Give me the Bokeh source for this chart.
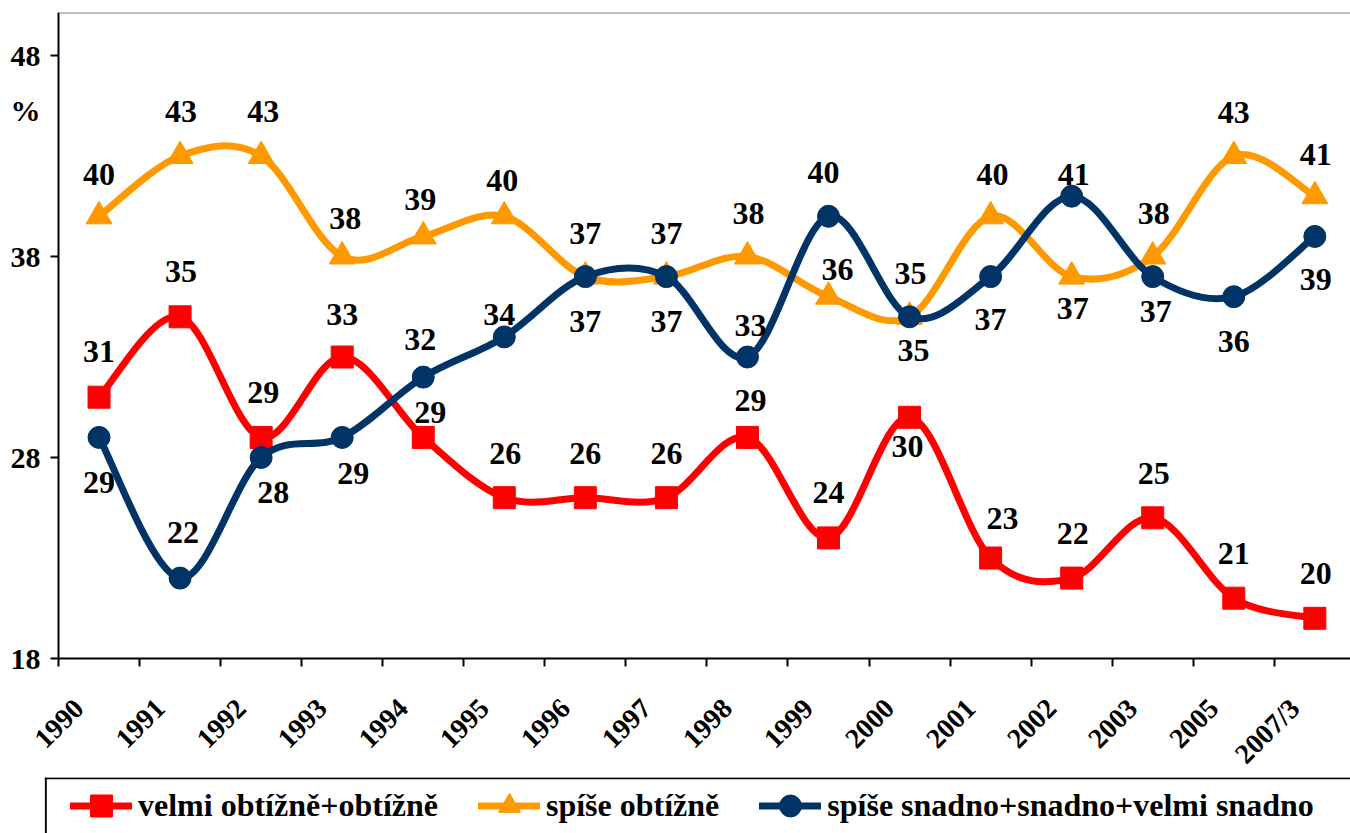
import math
from bokeh.plotting import figure
from bokeh.layouts import column
from bokeh.models import (Range1d, FixedTicker, ColumnDataSource, Legend, LegendItem,
                          Span)
from bokeh.embed import file_html
from bokeh.resources import INLINE
from bokeh.core.properties import value

# ---------------- data ----------------
years = ["1990", "1991", "1992", "1993", "1994", "1995", "1996", "1997",
         "1998", "1999", "2000", "2001", "2002", "2003", "2005", "2007/3"]
red_vals = [31, 35, 29, 33, 29, 26, 26, 26, 29, 24, 30, 23, 22, 25, 21, 20]
orange_vals = [40, 43, 43, 38, 39, 40, 37, 37, 38, 36, 35, 40, 37, 38, 43, 41]
blue_vals = [29, 22, 28, 29, 32, 34, 37, 37, 33, 40, 35, 37, 41, 37, 36, 39]
y_ticks = [18, 28, 38, 48]
y_unit_label = "%"
series_names = ["velmi obtížně+obtížně", "spíše obtížně",
                "spíše snadno+snadno+velmi snadno"]

# label placement (screen px offsets from the marker), styling only
red_lbl_dx = [0, 1, 2, 0, 7, 1, 0, 0, 3, 0, -2, 12, 1, 1, 0, 1]
red_lbl_dy = [-46, -45, -45, -43, -25, -44, -44, -44, -37, -45, 29, -40, -45, -44, -45, -45]
orange_lbl_dx = [0, 1, 2, 3, -3, -2, 0, 0, 1, 9, 4, 2, 1, 1, 0, 1]
orange_lbl_dy = [-42, -45, -45, -38, -37, -36, -43, -43, -43, -27, 34, -42, 32, -43, -44, -42]
blue_lbl_dx = [0, 3, 12, 11, -3, -5, 0, 0, 3, -5, 1, 0, 2, 3, 0, 1]
blue_lbl_dy = [45, -46, 35, 36, -38, -22, 45, 45, -32, -44, -43, 43, -22, 35, 45, 43]

RED = "#FF0000"
ORANGE = "#FF9900"
BLUE = "#003366"
FONT = "Liberation Serif"
NAN = float("nan")

xs = list(range(len(years)))


def smooth_source(xv, yv, t=1.0 / 6.0):
    n = len(xv)
    d = dict(x0=[], y0=[], x1=[], y1=[], cx0=[], cy0=[], cx1=[], cy1=[])
    for i in range(n - 1):
        im = max(i - 1, 0)
        ip2 = min(i + 2, n - 1)
        d["x0"].append(xv[i]); d["y0"].append(yv[i])
        d["x1"].append(xv[i + 1]); d["y1"].append(yv[i + 1])
        d["cx0"].append(xv[i] + (xv[i + 1] - xv[im]) * t)
        d["cy0"].append(yv[i] + (yv[i + 1] - yv[im]) * t)
        d["cx1"].append(xv[i + 1] - (xv[ip2] - xv[i]) * t)
        d["cy1"].append(yv[i + 1] - (yv[ip2] - yv[i]) * t)
    return ColumnDataSource(d)


y_top = 50.14
pct_pos = 45.25
p = figure(frame_width=1292, frame_height=646, output_backend="svg",
           toolbar_location=None,
           x_range=Range1d(-0.5, 15.44), y_range=Range1d(18, y_top),
           min_border_left=58, min_border_right=0, min_border_top=12,
           min_border_bottom=110)
p.xgrid.visible = False
p.ygrid.visible = False
p.outline_line_color = None
p.background_fill_color = "white"
p.border_fill_color = "white"

# y axis: labelled major ticks (no marks) + minor tick marks at the values
p.yaxis.ticker = FixedTicker(ticks=y_ticks + [pct_pos], minor_ticks=y_ticks)
p.yaxis.major_label_overrides = {pct_pos: y_unit_label}
p.yaxis.axis_line_color = "black"
p.yaxis.axis_line_width = 2
p.yaxis.major_tick_out = 0
p.yaxis.major_tick_in = 0
p.yaxis.major_tick_line_color = None
p.yaxis.minor_tick_out = 8
p.yaxis.minor_tick_in = 0
p.yaxis.minor_tick_line_width = 2
p.yaxis.minor_tick_line_color = "black"
p.yaxis.major_label_text_font = FONT
p.yaxis.major_label_text_font_style = "bold"
p.yaxis.major_label_text_font_size = "30px"
p.yaxis.major_label_text_color = "black"
p.yaxis.major_label_standoff = 10

# x axis: labels slightly left of the category centre, tick marks between categories
lbl_shift = 0.25
lbl_pos = [i - lbl_shift for i in xs]
p.xaxis.ticker = FixedTicker(ticks=lbl_pos, minor_ticks=[i - 0.5 for i in range(len(years) + 1)])
p.xaxis.major_label_overrides = {lbl_pos[i]: years[i] for i in xs}
p.xaxis.axis_line_color = "black"
p.xaxis.axis_line_width = 2
p.xaxis.major_tick_out = 0
p.xaxis.major_tick_in = 0
p.xaxis.major_tick_line_color = None
p.xaxis.minor_tick_out = 8
p.xaxis.minor_tick_in = 0
p.xaxis.minor_tick_line_width = 2
p.xaxis.minor_tick_line_color = "black"
p.xaxis.major_label_orientation = math.pi / 4
p.xaxis.major_label_text_font = FONT
p.xaxis.major_label_text_font_style = "bold"
p.xaxis.major_label_text_font_size = "28px"
p.xaxis.major_label_text_color = "black"
p.xaxis.major_label_standoff = 37

p.add_layout(Span(location=y_top, dimension="width", line_color="#808080", line_width=2))

# legend strip below the chart; its frame starts at the legend box's left/top edge
LEG_H = 56
pl = figure(width=1350, height=LEG_H, output_backend="svg", toolbar_location=None,
            x_axis_location=None, y_axis_location=None,
            x_range=Range1d(0, 1), y_range=Range1d(0, 1),
            min_border_left=44, min_border_right=0, min_border_top=0,
            min_border_bottom=0)
pl.xgrid.visible = False
pl.ygrid.visible = False
pl.outline_line_color = None
pl.border_fill_alpha = 0
pl.background_fill_alpha = 0
# box edges (left and top; right and bottom lie outside the window)
pl.add_layout(Span(location=0.001, dimension="height", line_color="black", line_width=2))
pl.add_layout(Span(location=0.985, dimension="width", line_color="black", line_width=2))

LW = 7
items = []
series = [
    (red_vals, RED, "square", 22, red_lbl_dx, red_lbl_dy),
    (orange_vals, ORANGE, "triangle", 26, orange_lbl_dx, orange_lbl_dy),
    (blue_vals, BLUE, "circle", 22, blue_lbl_dx, blue_lbl_dy),
]
label_sources = []
for k, (vals, col, mk, sz, ldx, ldy) in enumerate(series):
    src = smooth_source(xs, vals)
    p.bezier(x0="x0", y0="y0", x1="x1", y1="y1", cx0="cx0", cy0="cy0",
             cx1="cx1", cy1="cy1", source=src, line_color=col, line_width=LW,
             line_cap="round", line_join="round")
    p.scatter(x=xs, y=vals, marker=mk, size=sz, fill_color=col,
              line_color=col, line_width=1)
    # legend proxies (no visible data)
    lg_line = pl.line(x=[NAN, NAN], y=[NAN, NAN], line_color=col, line_width=LW,
                      line_cap="round")
    lg_mark = pl.scatter(x=[NAN], y=[NAN], marker=mk, size=sz, fill_color=col,
                         line_color=col, line_width=1)
    items.append(LegendItem(label=series_names[k], renderers=[lg_line, lg_mark]))
    label_sources.append(ColumnDataSource(dict(
        x=xs, y=vals, t=[str(v) for v in vals], dx=ldx, dy=ldy)))

for ls in label_sources:
    p.text(x="x", y="y", text="t", x_offset="dx", y_offset="dy", source=ls,
           text_align="center", text_baseline="middle",
           text_font=value(FONT), text_font_style="bold",
           text_font_size="32px", text_color="black")

GH = 55
legend = Legend(items=items, orientation="horizontal",
                location=(26, LEG_H - 1 - GH),
                border_line_color=None,
                padding=0, spacing=40, margin=0,
                glyph_width=62, glyph_height=GH, label_standoff=6,
                label_text_font=FONT, label_text_font_style="bold",
                label_text_font_size="32px", label_text_color="black",
                background_fill_alpha=0)
pl.add_layout(legend)

legend_wrap = column(pl, margin=(-6, 0, 0, 0))
layout = column(p, legend_wrap, spacing=0)
open("out.html", "w").write(file_html(layout, INLINE))
